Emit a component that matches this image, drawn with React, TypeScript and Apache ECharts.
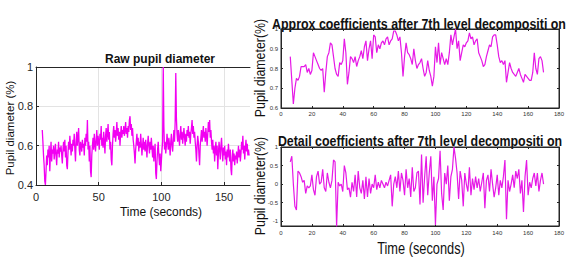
import React, { useEffect, useRef } from "react";
import * as echarts from "echarts";

// ---------- data ----------
// Raw pupil diameter, sampled every 0.5 s from t = 5 s
const RAW_T0 = 5;
const RAW_DT = 0.5;
const rawValues = [
  0.68, 0.62, 0.55, 0.50, 0.42, 0.40, 0.47, 0.55, 0.50, 0.58,
  0.54, 0.60, 0.47, 0.55, 0.62, 0.52, 0.58, 0.56, 0.60, 0.53, 0.57, 0.61, 0.55, 0.50, 0.58, 0.56, 0.62, 0.54, 0.59, 0.57,
  0.60, 0.55, 0.51, 0.58, 0.62, 0.57, 0.63, 0.54, 0.60, 0.50, 0.48, 0.56, 0.62, 0.58, 0.65, 0.60, 0.55, 0.61, 0.57, 0.63,
  0.60, 0.66, 0.58, 0.52, 0.62, 0.67, 0.60, 0.64, 0.69, 0.58, 0.55, 0.62, 0.60, 0.57, 0.63, 0.59, 0.61, 0.55, 0.64, 0.60,
  0.66, 0.62, 0.73, 0.58, 0.62, 0.52, 0.60, 0.47, 0.44, 0.55, 0.60, 0.64, 0.58, 0.66, 0.61, 0.57, 0.63, 0.68, 0.60, 0.65,
  0.62, 0.58, 0.66, 0.63, 0.70, 0.60, 0.64, 0.59, 0.67, 0.62, 0.56, 0.65, 0.69, 0.62, 0.66, 0.71, 0.63, 0.67, 0.58, 0.62,
  0.53, 0.50, 0.60, 0.66, 0.70, 0.64, 0.68, 0.62, 0.66, 0.72, 0.65, 0.69, 0.63, 0.67, 0.60, 0.66, 0.70, 0.64, 0.68, 0.66,
  0.70, 0.65, 0.68, 0.72, 0.66, 0.69, 0.64, 0.70, 0.67, 0.73, 0.75, 0.68, 0.71, 0.65, 0.69, 0.63, 0.60, 0.56, 0.51, 0.58,
  0.62, 0.66, 0.60, 0.64, 0.57, 0.62, 0.59, 0.66, 0.61, 0.55, 0.60, 0.64, 0.58, 0.62, 0.57, 0.63, 0.59, 0.54, 0.61, 0.65,
  0.60, 0.56, 0.62, 0.58, 0.64, 0.59, 0.54, 0.60, 0.52, 0.57, 0.61, 0.46, 0.43, 0.52, 0.58, 0.62, 0.55, 0.50, 0.56, 0.47,
  0.52, 0.58, 0.62, 1.00, 0.70, 0.58, 0.62, 0.56, 0.60, 0.66, 0.62, 0.58, 0.64, 0.60, 0.55, 0.62, 0.66, 0.60, 0.57, 0.63,
  0.68, 0.62, 0.72, 0.97, 0.74, 0.66, 0.62, 0.68, 0.64, 0.60, 0.66, 0.70, 0.63, 0.67, 0.61, 0.65, 0.69, 0.64, 0.60, 0.66,
  0.62, 0.68, 0.65, 0.70, 0.64, 0.67, 0.61, 0.66, 0.69, 0.73, 0.66, 0.70, 0.64, 0.67, 0.62, 0.58, 0.52, 0.60, 0.65, 0.62,
  0.55, 0.50, 0.60, 0.64, 0.68, 0.62, 0.66, 0.70, 0.64, 0.67, 0.62, 0.69, 0.65, 0.60, 0.66, 0.72, 0.67, 0.73, 0.64, 0.68,
  0.62, 0.58, 0.63, 0.56, 0.60, 0.52, 0.58, 0.62, 0.55, 0.60, 0.48, 0.56, 0.62, 0.58, 0.53, 0.60, 0.64, 0.57, 0.52, 0.59,
  0.55, 0.60, 0.53, 0.57, 0.50, 0.58, 0.54, 0.61, 0.56, 0.52, 0.58, 0.48, 0.45, 0.54, 0.58, 0.52, 0.56, 0.50, 0.55, 0.53,
  0.57, 0.51, 0.55, 0.60, 0.54, 0.58, 0.52, 0.56, 0.62, 0.58, 0.65, 0.56, 0.60, 0.53, 0.59, 0.63, 0.57, 0.61, 0.55, 0.58,
  0.55,
];

// Wavelet coefficients, one value per second from t = 6 s
const COEF_T0 = 6;
const COEF_DT = 1;
const approxValues = [
  0.86, 0.74, 0.62, 0.70, 0.75, 0.74, 0.76, 0.81, 0.81, 0.81, 0.82, 0.78, 0.80, 0.77,
  0.79, 0.88, 0.86, 0.84, 0.82, 0.80, 0.79, 0.80, 0.68, 0.78,
  0.86, 0.88, 0.93, 0.92, 0.86, 0.80, 0.77, 0.76, 0.83, 0.82,
  0.84, 0.95, 0.88, 0.72, 0.78, 0.86, 0.85, 0.83, 0.86, 0.81,
  0.84, 0.86, 0.89, 0.85, 0.91, 0.94, 0.84, 0.90, 0.94, 0.85,
  0.97, 0.96, 0.88, 0.92, 0.90, 0.93, 0.94, 0.92, 0.95, 0.96,
  0.92, 0.94, 0.95, 0.99, 0.99, 0.97, 0.94, 0.96, 0.88, 0.76,
  0.86, 0.93, 0.88, 0.87, 0.85, 0.82, 0.90, 0.84, 0.80, 0.82,
  0.83, 0.85, 0.80, 0.76, 0.78, 0.84, 0.79, 0.76, 0.71, 0.76,
  0.91, 0.83, 0.93, 0.82, 0.88, 0.85, 0.82, 0.85, 0.82, 0.88,
  0.97, 0.92, 0.96, 1.00, 0.90, 0.94, 0.84, 0.88, 0.92, 0.91,
  0.93, 0.94, 0.98, 0.95, 0.96, 0.92, 0.94, 0.95, 0.88, 0.86,
  0.84, 0.81, 0.82, 0.86, 0.89, 0.92, 0.91, 0.96, 0.97, 0.97,
  0.92, 0.86, 0.83, 0.84, 0.82, 0.84, 0.73, 0.78, 0.83, 0.80,
  0.78, 0.77, 0.76, 0.78, 0.80, 0.77, 0.75, 0.73, 0.77, 0.76,
  0.75, 0.74, 0.74, 0.78, 0.88, 0.80, 0.77, 0.85, 0.86, 0.84,
  0.78,
];
const detailValues = [
  0.60, 0.75, 0.00, -0.60, -0.70, 0.35, 0.30, 0.20, 0.05, 0.10, -0.25, -0.05, -0.10, -0.05,
  0.25, -0.15, -0.30, 0.20, 0.35, 0.00, 0.05, 0.40, -0.10, -0.20,
  0.30, 0.05, -0.10, 0.10, 0.65, 0.60, -1.15, 0.05, -0.05, 0.00,
  -0.20, 0.50, 0.30, -0.15, -0.10, -0.35, 0.05, -0.20, 0.25, -0.35,
  0.35, -0.10, -0.25, 0.10, -0.40, 0.20, -0.35, 0.15, -0.25, 0.00,
  -0.10, 0.25, -0.15, 0.05, -0.10, 0.10, 0.00, -0.10, 0.05, -0.05,
  0.10, 0.25, -0.60, 0.00, 0.20, -0.10, 0.35, -0.20, 0.30, 0.10,
  -0.30, 0.40, -0.10, 0.15, -0.35, 0.45, -0.20, -0.10, 0.30, 0.35,
  -0.55, 0.80, -0.50, 0.20, 0.75, -0.30, 0.30, 0.75, -0.45, 0.20,
  -1.10, 0.00, 0.15, 0.90, -0.25, -0.70, 0.30, 0.00, 0.50, -0.45,
  0.20, 0.40, 1.00, 0.70, 0.30, -0.40, 0.35, 0.10, -0.60, 0.30,
  0.00, -0.20, 0.45, -0.30, 0.15, -0.15, 0.20, -0.10, 0.15, -0.20,
  0.05, 0.30, -0.65, 0.10, 0.25, -0.20, 0.40, 0.00, -0.35, -0.10,
  0.25, -0.30, 0.10, -0.10, 0.20, 0.65, -0.95, 0.10, -0.20, 0.00,
  0.25, -0.10, 0.35, 0.15, 0.40, -0.25, 0.10, -0.75, 0.20, 0.65,
  -0.30, 0.05, -0.10, 0.15, 0.30, -0.05, 0.30, -0.20, 0.10, 0.30,
  0.00,
];

// tick values
const LEFT_X_TICKS = [0, 50, 100, 150];
const LEFT_Y_TICKS = [0.4, 0.6, 0.8, 1];
const DETAIL_Y_TICKS = [-1, -0.5, 0, 0.5, 1];

// texts
const TITLE_RAW = "Raw pupil diameter";
const TITLE_APPROX = "Approx coefficients after 7th level decompositi on";
const TITLE_DETAIL = "Detail coefficients after 7th level decompositi on";
const X_NAME = "Time (seconds)";
const Y_NAME_LEFT = "Pupil diameter (%)";
const Y_NAME_RIGHT = "Pupil diameter(%)";

const FONT = '"Liberation Sans", Arial, sans-serif';
const AXIS_COLOR = "#262626";

export default function App() {
  const ref = useRef<HTMLDivElement>(null);

  useEffect(() => {
    document.body.style.margin = "0";
    if (!ref.current) return;
    const chart = echarts.init(ref.current, null, { renderer: "svg" });

    const rawData = rawValues.map((v, i) => [RAW_T0 + i * RAW_DT, v]);
    const approxData = approxValues.map((v, i) => [COEF_T0 + i * COEF_DT, v]);
    const detailData = detailValues.map((v, i) => [COEF_T0 + i * COEF_DT, v]);

    const line = { show: true, onZero: false, lineStyle: { color: AXIS_COLOR, width: 1 } };
    const smallLabel = { color: "#333", fontSize: 6, fontFamily: FONT };

    const txt = (
      text: string,
      x: number,
      y: number,
      font: string,
      extra: any = {}
    ) => ({
      type: "text",
      x,
      y,
      ...extra,
      style: {
        text,
        font,
        fill: "#111",
        textAlign: "center",
        textVerticalAlign: "middle",
        verticalAlign: "middle",
      },
    });

    chart.setOption({
      animation: false,
      backgroundColor: "#fff",
      grid: [
        { left: 36, top: 67, width: 214, height: 118, show: false },
        { left: 281, top: 29, width: 278, height: 79, show: true, borderColor: AXIS_COLOR, borderWidth: 1 },
        { left: 281, top: 147, width: 278, height: 79, show: true, borderColor: AXIS_COLOR, borderWidth: 1 },
      ],
      xAxis: [
        {
          gridIndex: 0, type: "value", min: 0, max: 170.7, position: "bottom",
          axisLine: line,
          axisTick: { inside: true, length: 3, customValues: LEFT_X_TICKS, lineStyle: { color: AXIS_COLOR } },
          axisLabel: { customValues: LEFT_X_TICKS, color: AXIS_COLOR, fontSize: 11, margin: 6, fontFamily: FONT },
          splitLine: { show: true, lineStyle: { color: "#e3e3e3", width: 1 } },
        },
        {
          gridIndex: 0, type: "value", min: 0, max: 170.7, position: "top",
          axisLine: line, axisTick: { show: false }, axisLabel: { show: false }, splitLine: { show: false },
        },
        {
          gridIndex: 1, type: "value", min: 0, max: 180, interval: 20, position: "bottom",
          axisLine: line,
          axisTick: { inside: true, length: 2, lineStyle: { color: AXIS_COLOR } },
          axisLabel: { ...smallLabel, margin: 3 },
          splitLine: { show: false },
        },
        {
          gridIndex: 1, type: "value", min: 0, max: 180, interval: 20, position: "top",
          axisLine: line, axisTick: { inside: true, length: 2, lineStyle: { color: AXIS_COLOR } },
          axisLabel: { show: false }, splitLine: { show: false },
        },
        {
          gridIndex: 2, type: "value", min: 0, max: 180, interval: 20, position: "bottom",
          axisLine: line,
          axisTick: { inside: true, length: 2, lineStyle: { color: AXIS_COLOR } },
          axisLabel: { ...smallLabel, margin: 4 },
          splitLine: { show: false },
        },
        {
          gridIndex: 2, type: "value", min: 0, max: 180, interval: 20, position: "top",
          axisLine: line, axisTick: { inside: true, length: 2, lineStyle: { color: AXIS_COLOR } },
          axisLabel: { show: false }, splitLine: { show: false },
        },
      ],
      yAxis: [
        {
          gridIndex: 0, type: "value", min: 0.4, max: 1, position: "left",
          axisLine: line,
          axisTick: { inside: true, length: 3, customValues: LEFT_Y_TICKS, lineStyle: { color: AXIS_COLOR } },
          axisLabel: { customValues: LEFT_Y_TICKS, color: AXIS_COLOR, fontSize: 11, margin: 3, fontFamily: FONT },
          splitLine: { show: true, lineStyle: { color: "#e3e3e3", width: 1 } },
        },
        {
          gridIndex: 1, type: "value", min: 0.6, max: 1, interval: 0.1, position: "left",
          axisLine: line,
          axisTick: { inside: true, length: 2, lineStyle: { color: AXIS_COLOR } },
          axisLabel: { ...smallLabel, margin: 3 },
          splitLine: { show: false },
        },
        {
          gridIndex: 1, type: "value", min: 0.6, max: 1, interval: 0.1, position: "right",
          axisLine: line, axisTick: { inside: true, length: 2, lineStyle: { color: AXIS_COLOR } },
          axisLabel: { show: false }, splitLine: { show: false },
        },
        {
          gridIndex: 2, type: "value", min: -1.13, max: 1, position: "left",
          axisLine: line,
          axisTick: { inside: true, length: 2, customValues: DETAIL_Y_TICKS, lineStyle: { color: AXIS_COLOR } },
          axisLabel: { ...smallLabel, customValues: DETAIL_Y_TICKS, margin: 3 },
          splitLine: { show: false },
        },
        {
          gridIndex: 2, type: "value", min: -1.13, max: 1, position: "right",
          axisLine: line,
          axisTick: { inside: true, length: 2, customValues: DETAIL_Y_TICKS, lineStyle: { color: AXIS_COLOR } },
          axisLabel: { show: false }, splitLine: { show: false },
        },
      ],
      series: [
        {
          type: "line", xAxisIndex: 0, yAxisIndex: 0, data: rawData,
          symbol: "none", showSymbol: false, clip: true,
          lineStyle: { color: "#f200f2", width: 1.3 }, itemStyle: { color: "#f200f2" },
        },
        {
          type: "line", xAxisIndex: 2, yAxisIndex: 1, data: approxData,
          symbol: "none", showSymbol: false, clip: true,
          lineStyle: { color: "#e619e6", width: 1.2 }, itemStyle: { color: "#e619e6" },
        },
        {
          type: "line", xAxisIndex: 4, yAxisIndex: 3, data: detailData,
          symbol: "none", showSymbol: false, clip: true,
          lineStyle: { color: "#e619e6", width: 1.2 }, itemStyle: { color: "#e619e6" },
        },
      ],
      graphic: [
        txt(TITLE_RAW, 160, 59, `bold 12px ${FONT}`),
        txt(X_NAME, 161, 212, `12px ${FONT}`),
        txt(Y_NAME_LEFT, 10, 128, `11.5px ${FONT}`, { rotation: Math.PI / 2 }),
        txt(TITLE_APPROX, 419, 23, `bold 15.5px ${FONT}`, { scaleX: 0.8 }),
        txt(TITLE_DETAIL, 420, 140, `bold 15.5px ${FONT}`, { scaleX: 0.8 }),
        txt(Y_NAME_RIGHT, 259, 68, `15.5px ${FONT}`, { rotation: Math.PI / 2, scaleX: 0.8 }),
        txt(Y_NAME_RIGHT, 259, 186, `15.5px ${FONT}`, { rotation: Math.PI / 2, scaleX: 0.8 }),
        txt(X_NAME, 421, 248, `16px ${FONT}`, { scaleX: 0.8 }),
      ],
    });

    return () => chart.dispose();
  }, []);

  return <div ref={ref} style={{ width: 573, height: 261 }} />;
}
